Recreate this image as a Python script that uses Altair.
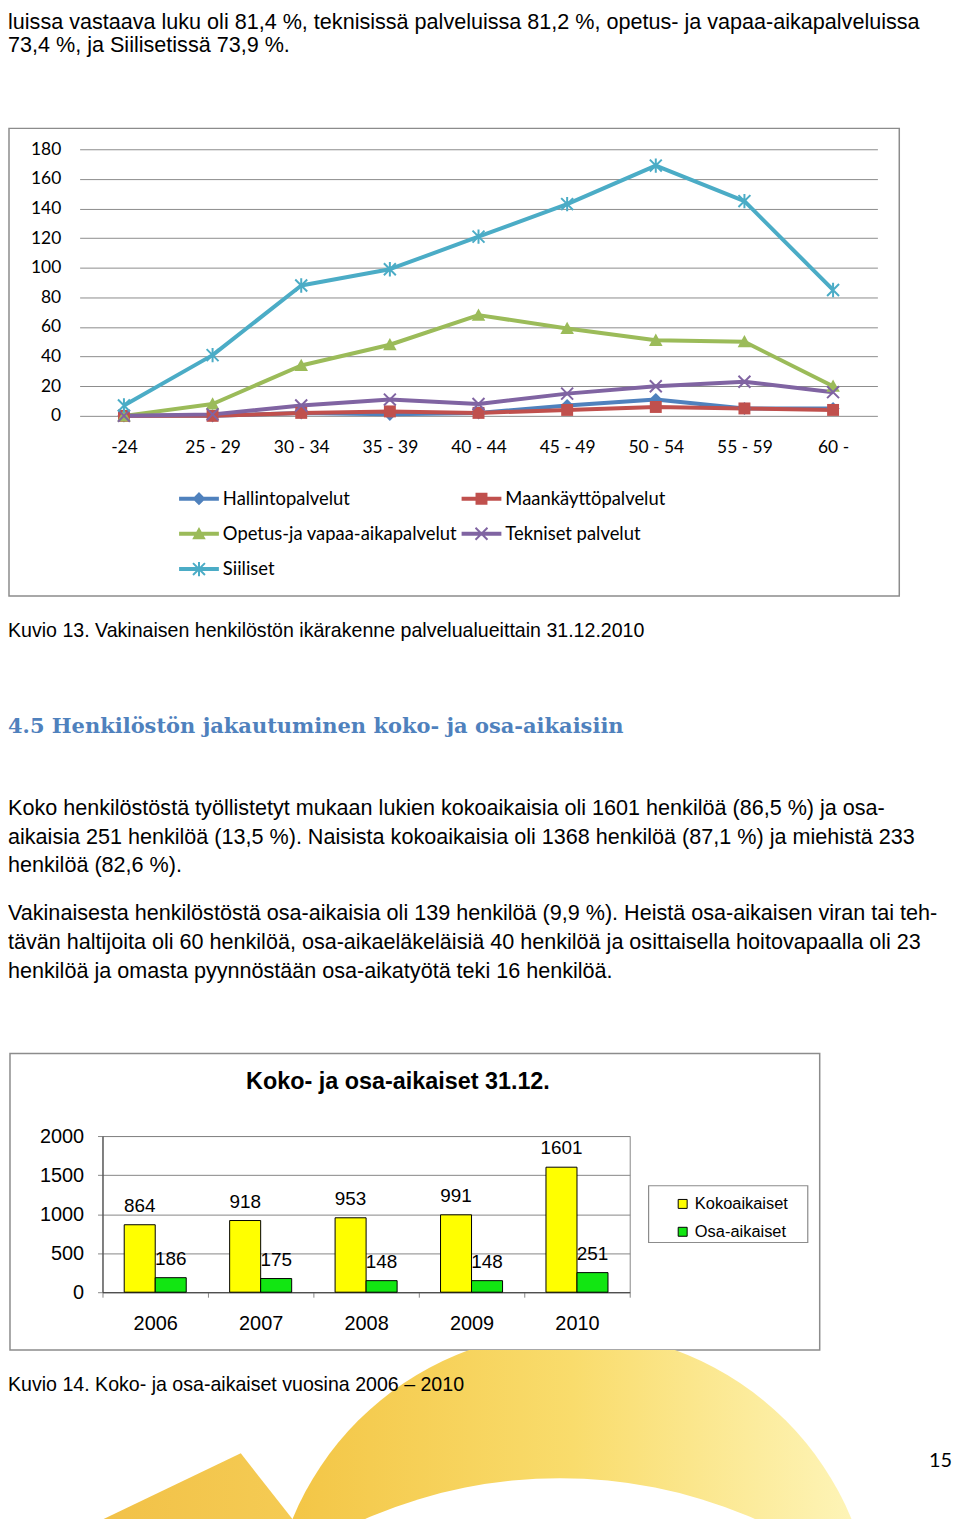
import altair as alt
import pandas as pd

# ---------------- text content ----------------
top_lines = [
    "luissa vastaava luku oli 81,4 %, teknisissä palveluissa 81,2 %, opetus- ja vapaa-aikapalveluissa",
    "73,4 %, ja Siilisetissä 73,9 %.",
]
caption_13 = "Kuvio 13. Vakinaisen henkilöstön ikärakenne palvelualueittain 31.12.2010"
heading = "4.5 Henkilöstön jakautuminen koko- ja osa-aikaisiin"
para_lines = [
    "Koko henkilöstöstä työllistetyt mukaan lukien kokoaikaisia oli 1601 henkilöä (86,5 %) ja osa-",
    "aikaisia 251 henkilöä (13,5 %). Naisista kokoaikaisia oli 1368 henkilöä (87,1 %) ja miehistä 233",
    "henkilöä (82,6 %).",
    "Vakinaisesta henkilöstöstä osa-aikaisia oli 139 henkilöä (9,9 %). Heistä osa-aikaisen viran tai teh-",
    "tävän haltijoita oli 60 henkilöä, osa-aikaeläkeläisiä 40 henkilöä ja osittaisella hoitovapaalla oli 23",
    "henkilöä ja omasta pyynnöstään osa-aikatyötä teki 16 henkilöä.",
]
caption_14 = "Kuvio 14. Koko- ja osa-aikaiset vuosina 2006 – 2010"
page_number = "15"
bar_title = "Koko- ja osa-aikaiset 31.12."

# ---------------- line chart data ----------------
age_groups = ["-24", "25 - 29", "30 - 34", "35 - 39", "40 - 44", "45 - 49", "50 - 54", "55 - 59", "60 -"]
series_names = ["Hallintopalvelut", "Maankäyttöpalvelut", "Opetus-ja vapaa-aikapalvelut",
                "Tekniset palvelut", "Siiliset"]
hallintopalvelut = [0, 0, 2, 1, 2, 7, 11, 5, 5]
maankayttopalvelut = [0, 0, 2, 3, 2, 4, 6, 5, 4]
opetus_vapaa_aika = [0, 8, 34, 48, 68, 59, 51, 50, 20]
tekniset_palvelut = [0, 1, 7, 11, 8, 15, 20, 23, 16]
siiliset = [7, 41, 88, 99, 121, 143, 169, 145, 85]
series_colors = ["#4f81bd", "#c0504d", "#9bbb59", "#8064a2", "#4bacc6"]

# ---------------- bar chart data ----------------
years = ["2006", "2007", "2008", "2009", "2010"]
kokoaikaiset = [864, 918, 953, 991, 1601]
osa_aikaiset = [186, 175, 148, 148, 251]
bar_series = ["Kokoaikaiset", "Osa-aikaiset"]
bar_colors = ["#ffff00", "#12e612"]

# marker shapes (custom symbol paths in the -1..1 unit square)
X_PATH = ("M-0.265,-0.335L0.335,0.265L0.265,0.335L-0.335,-0.265Z"
          "M-0.335,0.265L0.265,-0.335L0.335,-0.265L-0.265,0.335Z")
marker_paths = [
    "M0,-0.33L0.33,0L0,0.33L-0.33,0Z",
    "M-0.3,-0.3L0.3,-0.3L0.3,0.3L-0.3,0.3Z",
    "M0,-0.34L0.34,0.28L-0.34,0.28Z",
    X_PATH,
    X_PATH + "M-0.05,-0.36L0.05,-0.36L0.05,0.36L-0.05,0.36Z",
]
LEG_LINE = "M-1,-0.1L1,-0.1L1,0.1L-1,0.1Z"
legend_paths = [LEG_LINE + p for p in marker_paths]

ONE = pd.DataFrame({"k": [0]})
SANS = "Liberation Sans"
CAL = "Lato"


def txt(s, x, y, size, font=SANS, color="black", weight="normal", align="left", baseline="middle"):
    return alt.Chart(ONE).mark_text(
        text=s, font=font, fontSize=size, color=color, fontWeight=weight,
        align=align, baseline=baseline,
    ).encode(x=alt.value(x), y=alt.value(y))


def box(x1, x2, y1, y2, fill="white", stroke="#8c8c8c", sw=1.5):
    return alt.Chart(ONE).mark_rect(fill=fill, stroke=stroke, strokeWidth=sw).encode(
        x=alt.value(x1), x2=alt.value(x2), y=alt.value(y1), y2=alt.value(y2))


def spacer(h):
    return txt("", 0, 0, 10).properties(width=944, height=h)


# ---------------- top text panel ----------------
p_top = alt.layer(
    txt(top_lines[0], 0, 0, 21.7, baseline="top"),
    txt(top_lines[1], 0, 33, 21.7),
).properties(width=944, height=138)

# ---------------- line chart ----------------
rows = []
for name, vals in zip(series_names, [hallintopalvelut, maankayttopalvelut, opetus_vapaa_aika,
                                     tekniset_palvelut, siiliset]):
    for a, v in zip(age_groups, vals):
        rows.append({"age": a, "value": v, "series": name})
line_df = pd.DataFrame(rows)

x_line = alt.X("age:N", sort=age_groups, scale=alt.Scale(type="point", padding=0.5),
               axis=alt.Axis(title=None, labelAngle=0, domain=False, ticks=False, tickSize=0,
                             labelPadding=23, labelFont=CAL, labelFontSize=17.5,
                             labelColor="black", grid=False))
y_line = alt.Y("value:Q", scale=alt.Scale(domain=[0, 180], nice=False),
               axis=alt.Axis(title=None, values=list(range(0, 181, 20)), domain=False,
                             ticks=False, tickSize=0, labelPadding=19, labelFont=CAL,
                             labelFontSize=17.5, labelColor="black", grid=True,
                             gridColor="#8c8c8c", gridWidth=1))

lines = alt.Chart(line_df).mark_line(strokeWidth=4, strokeJoin="round").encode(
    x=x_line, y=y_line,
    stroke=alt.Stroke("series:N", scale=alt.Scale(domain=series_names, range=series_colors),
                      legend=None),
)
points = alt.Chart(line_df).mark_point(filled=True, size=1600, opacity=1, strokeWidth=0).encode(
    x=x_line, y=y_line,
    fill=alt.Fill("series:N", scale=alt.Scale(domain=series_names, range=series_colors),
                  legend=None),
    shape=alt.Shape("series:N", scale=alt.Scale(domain=series_names, range=marker_paths),
                    legend=None),
)
legend_common = dict(orient="none", legendX=100, legendY=331, columns=2, direction="horizontal",
                     title=None, symbolSize=1600, symbolStrokeWidth=0, padding=0,
                     rowPadding=5.5, columnPadding=4, labelOffset=4, labelFont=CAL,
                     labelFontSize=18.5, labelColor="black", labelLimit=500)
legend_layer = alt.Chart(line_df).transform_filter("false").mark_point(
    filled=True, size=1600, opacity=1, strokeWidth=0).encode(
    x=x_line, y=y_line,
    fill=alt.Fill("series:N", scale=alt.Scale(domain=series_names, range=series_colors),
                  legend=alt.Legend(**legend_common)),
    shape=alt.Shape("series:N", scale=alt.Scale(domain=series_names, range=legend_paths),
                    legend=alt.Legend(**legend_common)),
)
line_chart = alt.layer(lines, points, legend_layer).resolve_scale(
    shape="independent", fill="independent").properties(width=802, height=268)

spacer_line = box(1, 896, -21, 449).properties(width=72, height=268)
p_line = alt.hconcat(spacer_line, line_chart, spacing=0, bounds="flush")

# ---------------- middle text panel ----------------
mid_layers = [
    txt(caption_13, 0, 216, 19.7),
    txt(heading, 0, 313, 21.1, font="DejaVu Serif", color="#4f81bd", weight="bold"),
]
for i, yy in enumerate([394, 423, 452, 500, 529, 558]):
    mid_layers.append(txt(para_lines[i], 0, yy, 21.7))
p_mid = alt.layer(*mid_layers).properties(width=944, height=724)

# ---------------- bar chart ----------------
bar_rows = []
for yr, k, o in zip(years, kokoaikaiset, osa_aikaiset):
    bar_rows.append({"year": yr, "series": bar_series[0], "value": k})
    bar_rows.append({"year": yr, "series": bar_series[1], "value": o})
bar_df = pd.DataFrame(bar_rows)

x_bar = alt.X("year:N", scale=alt.Scale(paddingInner=0, paddingOuter=0),
              axis=alt.Axis(title=None, labelAngle=0, tickBand="extent", tickSize=5,
                            tickColor="#868686", domainColor="#404040", labelPadding=16,
                            labelFont=SANS, labelFontSize=20, labelColor="black"))
xo_bar = alt.XOffset("series:N", scale=alt.Scale(domain=bar_series, paddingInner=0,
                                                 paddingOuter=0.7))
y_bar = alt.Y("value:Q", scale=alt.Scale(domain=[0, 2000], nice=False),
              axis=alt.Axis(title=None, values=[0, 500, 1000, 1500, 2000], format="d",
                            tickSize=5, tickColor="#868686", domainColor="#404040",
                            labelPadding=14, labelFont=SANS, labelFontSize=20,
                            labelColor="black", grid=True, gridColor="#868686", gridWidth=1))
bars = alt.Chart(bar_df).mark_bar(stroke="black", strokeWidth=1).encode(
    x=x_bar, xOffset=xo_bar, y=y_bar,
    color=alt.Color("series:N", scale=alt.Scale(domain=bar_series, range=bar_colors),
                    legend=alt.Legend(orient="none", legendX=670, legendY=1190, title=None,
                                      symbolType="square", symbolSize=81,
                                      symbolStrokeColor="black", symbolStrokeWidth=1,
                                      padding=0, rowPadding=11, labelOffset=4,
                                      labelFont=SANS, labelFontSize=16.5,
                                      labelColor="black")),
)
bar_labels = alt.Chart(bar_df).mark_text(dy=-19, font=SANS, fontSize=19, color="black").encode(
    x=x_bar, xOffset=xo_bar, y=y_bar, text="value:Q")
bar_chart = alt.layer(bars, bar_labels).properties(
    width=530, height=157, view=alt.ViewBackground(stroke="#868686", strokeWidth=1))

spacer_bar = alt.layer(
    box(2, 816, -83, 215),
    box(644, 804, 50, 107, fill="white", sw=1.2),
    txt(bar_title, 392, -54, 23.5, weight="bold", align="center"),
).properties(width=95, height=157)
p_bar = alt.hconcat(spacer_bar, bar_chart, spacing=0, bounds="flush")

# ---------------- bottom panel (decoration + captions) ----------------
grad_arc = alt.LinearGradient(gradient="linear", x1=0, x2=1, y1=0, y2=0, stops=[
    alt.GradientStop(offset=0, color="#f3c443"),
    alt.GradientStop(offset=0.5, color="#f9dc6c"),
    alt.GradientStop(offset=1, color="#fef6bd"),
])
grad_spike = alt.LinearGradient(gradient="linear", x1=0, x2=1, y1=0, y2=0, stops=[
    alt.GradientStop(offset=0, color="#f1bf45"),
    alt.GradientStop(offset=1, color="#f6cf58"),
])
outer = alt.Chart(ONE).mark_arc(theta=0, theta2=6.2832, radius=304, fill=grad_arc,
                                clip=True).encode(x=alt.value(567), y=alt.value(286))
inner = alt.Chart(ONE).mark_arc(theta=0, theta2=6.2832, radius=489, fill="white",
                                clip=True).encode(x=alt.value(555), y=alt.value(618))
spike = alt.Chart(ONE).mark_arc(theta=2.475, theta2=4.266, radius=200, fill=grad_spike,
                                clip=True).encode(x=alt.value(234), y=alt.value(104))
p_bottom = alt.layer(
    outer, inner, spike,
    txt(caption_14, 0, 35, 19.7),
    txt(page_number, 949, 112, 20, font=CAL, align="right"),
).properties(width=944, height=170)

# nested hconcat rows count as zero height in a flush vconcat: add matching spacers
chart = alt.vconcat(p_top, p_line, spacer(268), p_mid, p_bar, spacer(157), spacer(58), p_bottom,
                    spacing=0, bounds="flush").properties(padding=0).configure_view(stroke=None)

chart.save("out.html", embed_options={"renderer": "svg", "actions": False})
